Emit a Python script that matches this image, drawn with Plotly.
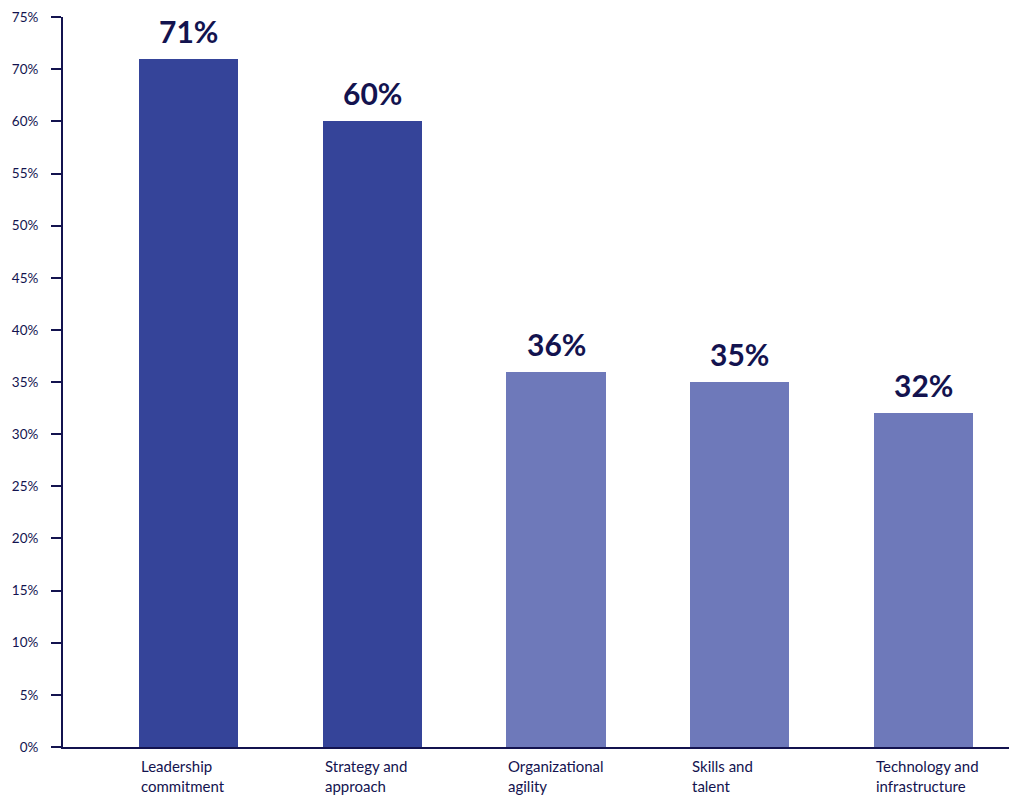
import plotly.graph_objects as go

categories = ["Leadership<br>commitment", "Strategy and<br>approach", "Organizational<br>agility",
              "Skills and<br>talent", "Technology and<br>infrastructure"]
values = [71, 60, 36, 35, 32]
bar_colors = ["#354499", "#354499", "#6E79BA", "#6E79BA", "#6E79BA"]
tick_pcts = [0, 5, 10, 15, 20, 25, 30, 35, 40, 45, 50, 55, 60, 70, 75]

NAVY = "#13134f"
FONT = "Lato"
BAR_W = 0.54


def to_axis(v):
    # the reference's value axis compresses 60-70% into one tick step
    if v <= 60:
        return v
    if v <= 70:
        return 60 + (v - 60) / 2
    return 65 + (v - 70)


xs = list(range(len(categories)))
fig = go.Figure()
fig.add_trace(go.Bar(
    x=xs, y=[to_axis(v) for v in values], width=BAR_W,
    marker=dict(color=bar_colors, line=dict(width=0)),
    hoverinfo="skip",
))

annotations = []
for i, v in enumerate(values):
    annotations.append(dict(x=i, y=to_axis(v), xref="x", yref="y", text=f"<b>{v}%</b>",
                            showarrow=False, yanchor="bottom", yshift=8,
                            font=dict(family=FONT, size=30, color=NAVY)))
    annotations.append(dict(x=i - BAR_W / 2, y=0, xref="x", yref="paper", text=categories[i],
                            showarrow=False, xanchor="left", yanchor="top", align="left", yshift=-8,
                            font=dict(family=FONT, size=15, color=NAVY)))

fig.update_layout(
    width=1017, height=812,
    margin=dict(l=55, r=10, t=9, b=73, autoexpand=False),
    paper_bgcolor="white", plot_bgcolor="white",
    showlegend=False,
    bargap=0,
    annotations=annotations,
    xaxis=dict(range=[-0.682, 4.497], showticklabels=False, ticks="", showgrid=False,
               zeroline=False, showline=True, linecolor=NAVY, linewidth=2, automargin=False),
    yaxis=dict(range=[0, to_axis(75) + 0.02], tickvals=[to_axis(t) for t in tick_pcts],
               ticktext=[f"{t}%" for t in tick_pcts], ticks="outside", ticklen=10,
               tickwidth=2, tickcolor=NAVY, showgrid=False, zeroline=False,
               showline=True, linecolor=NAVY, linewidth=2, ticklabelstandoff=10,
               ticklabeloverflow="allow", automargin=False,
               tickfont=dict(family=FONT, size=13.5, color=NAVY)),
)

fig.write_html("out.html")
